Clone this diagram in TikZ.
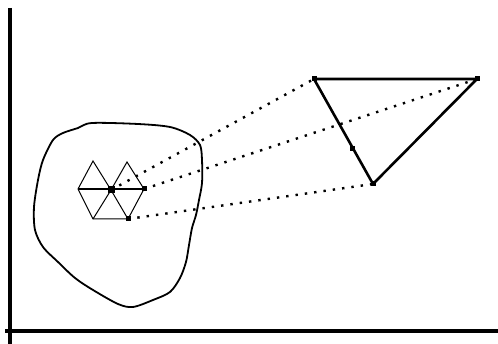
\documentclass[tikz,border=0pt]{standalone}
\usetikzlibrary{calc}
\begin{document}
\begin{tikzpicture}[x=1pt,y=-1pt,
  axis/.style={line width=3.2pt},
  blob/.style={line width=1.8pt,line join=round},
  thinmesh/.style={line width=1pt},
  tri/.style={line width=2.6pt,line join=round},
  proj/.style={line width=2.4pt,dash pattern=on 2.4pt off 7pt},
  mk/.style={fill=black,inner sep=0pt,minimum size=5pt,shape=rectangle}]
\useasboundingbox (0,0) rectangle (498,344);
% axes
\coordinate (ytop) at (10,8);
\coordinate (ybot) at (10,344);
\coordinate (xl) at (5,331);
\coordinate (xr) at (498,331);
\draw[axis] (ytop) -- (ybot);
\draw[axis] (xl) -- (xr);
% blob
\draw[blob] plot[smooth cycle,tension=0.5] coordinates {
 (92,123) (138,124) (170,127) (190,135) (200,145) (202,160) (202,183)
 (199,200) (196,215) (192,228) (189,245) (186,262) (180,278) (170,292)
 (153,300) (133,307) (118,304) (93,290) (75,278) (58,262) (43,247)
 (35,230) (34,207) (38,180) (43,160) (53,140) (63,133) (78,128)};
% hexagon mesh
\coordinate (O) at (111,190);
\coordinate (L) at (78,189);
\coordinate (R) at (144,189);
\coordinate (BL) at (93,219);
\coordinate (BR) at (128,219);
\coordinate (TL) at (93,161);
\coordinate (TR) at (127,162);
\draw[thinmesh] (L) -- (TL) -- (O) -- (TR) -- (R) -- (BR) -- (BL) -- (L);
\draw[thinmesh] (BL) -- (O) -- (BR);
\draw[line width=1.6pt] (L) -- (R);
% triangle
\coordinate (A) at (314,79);
\coordinate (B) at (477,79);
\coordinate (C) at (373,184);
\coordinate (M) at ($(A)!0.66!(C)$);
\draw[tri] (A) -- (B) -- (C) -- cycle;
% projection lines
\draw[proj] (O) -- (A);
\draw[proj] (R) -- (B);
\draw[proj] (BR) -- (C);
% markers
\node[mk,minimum size=7pt] (mO) at (O) {};
\node[mk] (mR) at (R) {};
\node[mk] (mBR) at (BR) {};
\node[mk] (mA) at (A) {};
\node[mk] (mB) at (B) {};
\node[mk] (mC) at (C) {};
\node[mk] (mM) at (M) {};
\end{tikzpicture}
\end{document}
